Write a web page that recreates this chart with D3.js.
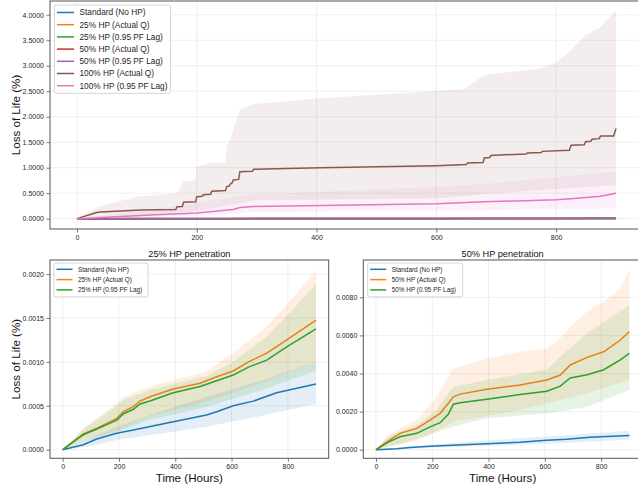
<!DOCTYPE html>
<html>
<head>
<meta charset="utf-8">
<script src="https://cdn.jsdelivr.net/npm/d3@7"></script>
<style>
  body { margin: 0; background: #fff; }
  svg { font-family: 'Liberation Sans', Arial, sans-serif; display: block; }
</style>
</head>
<body>
<div id="chart"></div>
<script>
// series values, [hour, loss of life %]
const standardMean = [[0,0],[73,0.000057],[121,0.000122],[192,0.000187],[251,0.000225],[393,0.000319],[511,0.000395],[547,0.000433],[606,0.0005],[677,0.000553],[760,0.000649],[900,0.000748]];
const standardUpper = [[0,0],[100,0.00013],[192,0.00026],[380,0.00047],[511,0.0006],[700,0.00078],[900,0.001]];
const standardLower = [[0,0],[100,0.00004],[192,0.00011],[380,0.0002],[511,0.00026],[700,0.00038],[900,0.00052]];

const hp25ActualMean = [[0,0],[45,0.00011],[73,0.000179],[121,0.000243],[192,0.000357],[216,0.000433],[251,0.00049],[275,0.000554],[310,0.000603],[393,0.000691],[488,0.000756],[547,0.00083],[606,0.000896],[660,0.001],[725,0.0011],[796,0.00125],[900,0.001476]];
const hp25ActualUpper = [[0,0],[45,0.00015],[73,0.000243],[192,0.000528],[216,0.000603],[310,0.00072],[393,0.000793],[511,0.000888],[606,0.0011],[725,0.0014],[819,0.00174],[900,0.00204]];
const hp25ActualLower = [[0,0],[73,0.0001],[192,0.00022],[310,0.00038],[393,0.00045],[511,0.00055],[606,0.00065],[725,0.00078],[900,0.001]];
const hp25LagMean = [[0,0],[45,0.000105],[73,0.00017],[121,0.000235],[192,0.000336],[216,0.00041],[251,0.00046],[275,0.00052],[310,0.000554],[393,0.000649],[488,0.00072],[606,0.00085],[660,0.00094],[725,0.00102],[796,0.00117],[900,0.001377]];
const hp25LagUpper = [[0,0],[45,0.00014],[73,0.00023],[192,0.0005],[216,0.00057],[310,0.00068],[393,0.00075],[511,0.00084],[606,0.001],[725,0.00129],[819,0.0016],[900,0.00189]];
const hp25LagLower = [[0,0],[73,0.00009],[192,0.0002],[310,0.00034],[393,0.0004],[511,0.00049],[606,0.00058],[725,0.0007],[900,0.0009]];

const hp50ActualMean = [[0,0],[44,0.00046],[85,0.00086],[145,0.00112],[192,0.00156],[228,0.00191],[257,0.00244],[275,0.00278],[299,0.00292],[394,0.00317],[512,0.0034],[607,0.00366],[655,0.00392],[690,0.00445],[750,0.00485],[809,0.00514],[868,0.00576],[900,0.00619]];
const hp50ActualUpper = [[0,0],[44,0.00079],[145,0.00156],[210,0.00265],[275,0.00427],[299,0.00435],[394,0.00479],[512,0.00514],[607,0.00532],[655,0.00585],[702,0.00663],[750,0.00725],[809,0.00777],[868,0.00847],[900,0.00943]];
const hp50ActualLower = [[0,0],[44,0.0002],[145,0.0005],[192,0.0008],[275,0.00147],[512,0.00208],[750,0.00296],[900,0.00366]];
const hp50LagMean = [[0,0],[44,0.0004],[85,0.00068],[145,0.00086],[192,0.0012],[228,0.00142],[257,0.00186],[275,0.00239],[299,0.00247],[394,0.00265],[512,0.0029],[607,0.00307],[655,0.00334],[690,0.00377],[750,0.00394],[809,0.0042],[868,0.00472],[900,0.00506]];
const hp50LagUpper = [[0,0],[44,0.0007],[145,0.0013],[210,0.002],[275,0.00331],[394,0.00366],[607,0.0042],[655,0.0049],[750,0.00611],[900,0.0076]];
const hp50LagLower = [[0,0],[85,0.00027],[275,0.00121],[394,0.00165],[607,0.0019],[750,0.00226],[900,0.00313]];

const hp100ActualMean = [[0,0],[8,0.03],[33,0.12],[40,0.13],[106,0.17],[165,0.18],[167,0.235],[176,0.24],[178,0.32],[198,0.33],[200,0.43],[209,0.44],[211,0.47],[223,0.48],[225,0.54],[248,0.55],[250,0.63],[254,0.64],[256,0.68],[259,0.7],[261,0.76],[270,0.77],[272,0.92],[293,0.93],[295,0.97],[406,1.0],[600,1.04],[650,1.06],[652,1.09],[678,1.1],[680,1.19],[689,1.2],[691,1.24],[750,1.27],[752,1.29],[775,1.3],[777,1.32],[822,1.34],[825,1.44],[847,1.45],[849,1.51],[858,1.52],[860,1.56],[872,1.57],[874,1.62],[896,1.62],[900,1.77]];
const hp100ActualUpper = [[0,0],[8,0.05],[33,0.22],[55,0.29],[100,0.43],[167,0.5],[178,0.73],[198,0.76],[200,1.02],[222,1.09],[248,1.1],[250,1.41],[256,1.55],[261,1.75],[272,2.13],[295,2.25],[406,2.36],[646,2.54],[680,2.82],[775,2.95],[800,3.06],[825,3.31],[849,3.61],[874,3.75],[896,4.03],[900,4.06]];
const hp100ActualLower = [[0,0],[30,0.03],[100,0.06],[200,0.15],[272,0.3],[295,0.36],[406,0.37],[600,0.4],[700,0.5],[825,0.6],[900,0.66]];
const hp100LagMean = [[0,0],[123,0.07],[200,0.11],[261,0.18],[272,0.22],[295,0.24],[406,0.26],[600,0.29],[680,0.33],[800,0.37],[825,0.39],[874,0.44],[900,0.5]];
const hp100LagUpper = [[0,0],[100,0.15],[200,0.3],[272,0.45],[406,0.53],[600,0.62],[700,0.7],[825,0.84],[900,0.92]];
const hp100LagLower = [[0,0],[200,0.06],[300,0.13],[406,0.14],[700,0.17],[900,0.2]];

const xTicks = [0, 200, 400, 600, 800];
const yTicksTop = [0, 0.5, 1, 1.5, 2, 2.5, 3, 3.5, 4];
const yTicks25 = [0, 0.0005, 0.001, 0.0015, 0.002];
const yTicks50 = [0, 0.002, 0.004, 0.006, 0.008];

const series = {
  std: {label: 'Standard (No HP)', color: '#1f77b4', mean: standardMean, lo: standardLower, hi: standardUpper},
  a25: {label: '25% HP (Actual Q)', color: '#ff7f0e', mean: hp25ActualMean, lo: hp25ActualLower, hi: hp25ActualUpper},
  l25: {label: '25% HP (0.95 PF Lag)', color: '#2ca02c', mean: hp25LagMean, lo: hp25LagLower, hi: hp25LagUpper},
  a50: {label: '50% HP (Actual Q)', color: '#d62728', mean: hp50ActualMean, lo: hp50ActualLower, hi: hp50ActualUpper},
  l50: {label: '50% HP (0.95 PF Lag)', color: '#9467bd', mean: hp50LagMean, lo: hp50LagLower, hi: hp50LagUpper},
  a100: {label: '100% HP (Actual Q)', color: '#8c564b', mean: hp100ActualMean, lo: hp100ActualLower, hi: hp100ActualUpper},
  l100: {label: '100% HP (0.95 PF Lag)', color: '#e377c2', mean: hp100LagMean, lo: hp100LagLower, hi: hp100LagUpper}
};

const W = 638, H = 489;
const svg = d3.select('#chart').append('svg').attr('width', W).attr('height', H);

// interpolate a sparse [hour, value] list at hour h
function at(arr, h) {
  for (let i = 1; i < arr.length; i++) {
    if (h <= arr[i][0]) {
      const [x0, y0] = arr[i - 1], [x1, y1] = arr[i];
      return y0 + (y1 - y0) * (h - x0) / (x1 - x0);
    }
  }
  return arr[arr.length - 1][1];
}

let clipId = 0;
function panel(p) {
  const x = d3.scaleLinear().domain([-45, 945]).range([p.left, p.right]);
  const y = d3.scaleLinear().domain(p.ydom).range([p.bottom, p.top]);
  const colorOf = k => (p.colors && p.colors[k]) || series[k].color;
  const g = svg.append('g');
  const id = 'clip' + (clipId++);
  g.append('clipPath').attr('id', id).append('rect')
    .attr('x', p.left).attr('y', p.top)
    .attr('width', p.right - p.left).attr('height', p.bottom - p.top);

  // grid
  const grid = g.append('g').attr('clip-path', `url(#${id})`);
  grid.selectAll('.gx').data(xTicks).join('line')
    .attr('x1', d => x(d)).attr('x2', d => x(d))
    .attr('y1', p.top).attr('y2', p.bottom)
    .style('stroke', '#ebebeb').style('stroke-width', 0.8);
  grid.selectAll('.gy').data(p.yticks).join('line')
    .attr('x1', p.left).attr('x2', p.right)
    .attr('y1', d => y(d)).attr('y2', d => y(d))
    .style('stroke', '#ebebeb').style('stroke-width', 0.8);

  // bands + lines
  const plot = g.append('g').attr('clip-path', `url(#${id})`);
  const line = d3.line().x(d => x(d[0])).y(d => y(d[1]));
  const area = d3.area().x(d => x(d[0])).y0(d => y(d[1])).y1(d => y(d[2]));
  p.keys.forEach(k => {
    const s = series[k];
    const hours = Array.from(new Set(s.lo.map(d => d[0]).concat(s.hi.map(d => d[0])))).sort((a, b) => a - b);
    const band = hours.map(h => [h, at(s.lo, h), at(s.hi, h)]);
    plot.append('path').attr('d', area(band))
      .style('fill', colorOf(k)).style('fill-opacity', p.bandAlpha);
    plot.append('path').attr('d', line(s.mean))
      .style('fill', 'none').style('stroke', colorOf(k)).style('stroke-width', 1.5);
  });

  // axes
  const xa = g.append('g').attr('transform', `translate(0,${p.bottom})`)
    .call(d3.axisBottom(x).tickValues(xTicks).tickSize(3.5).tickPadding(2.5).tickFormat(d3.format('d')));
  const ya = g.append('g').attr('transform', `translate(${p.left},0)`)
    .call(d3.axisLeft(y).tickValues(p.yticks).tickSize(3.5).tickPadding(2.5).tickFormat(d3.format('.4f')));
  [xa, ya].forEach(a => {
    a.select('.domain').remove();
    a.selectAll('line').style('stroke', '#555').style('stroke-width', 0.8);
    a.selectAll('text').style('font-size', '7px').style('fill', '#262626')
      .style('font-family', "'Liberation Sans', Arial, sans-serif");
  });

  // frame
  g.append('rect').attr('x', p.left).attr('y', p.top)
    .attr('width', p.right - p.left).attr('height', p.bottom - p.top)
    .style('fill', 'none').style('stroke', '#555').style('stroke-width', 1);

  if (p.title) {
    g.append('text').attr('x', (p.left + p.right) / 2).attr('y', p.top - 3.5)
      .attr('text-anchor', 'middle').style('font-size', '9.2px').style('fill', '#111')
      .text(p.title);
  }
  if (p.ylabel) {
    g.append('text')
      .attr('transform', `translate(${p.ylabelX},${(p.top + p.bottom) / 2}) rotate(-90)`)
      .attr('text-anchor', 'middle').style('font-size', '11.6px').style('fill', '#111')
      .text(p.ylabel);
  }
  if (p.xlabel) {
    g.append('text').attr('x', (p.left + p.right) / 2).attr('y', p.bottom + 23.5)
      .attr('text-anchor', 'middle').style('font-size', '11.6px').style('fill', '#111')
      .text(p.xlabel);
  }

  // legend
  const L = p.legend;
  const lg = g.append('g').attr('transform', `translate(${L.x},${L.y})`);
  lg.append('rect').attr('width', L.w).attr('height', L.step * p.keys.length + 3)
    .attr('rx', 2).style('fill', '#fff').style('fill-opacity', 0.85)
    .style('stroke', '#ccc').style('stroke-width', 0.8);
  p.keys.forEach((k, i) => {
    const cy = L.first + i * L.step;
    lg.append('line').attr('x1', 2.5).attr('x2', 2.5 + L.len).attr('y1', cy).attr('y2', cy)
      .style('stroke', colorOf(k)).style('stroke-width', 1.5);
    lg.append('text').attr('x', L.len + 8).attr('y', cy).attr('dy', '0.35em')
      .style('font-size', L.font + 'px').style('fill', '#262626').text(series[k].label);
  });
}

panel({
  left: 50, right: 643, top: 1, bottom: 229,
  ydom: [-0.203, 4.27], yticks: yTicksTop, bandAlpha: 0.1,
  keys: ['std', 'a25', 'l25', 'a50', 'l50', 'a100', 'l100'],
  ylabel: 'Loss of Life (%)', ylabelX: 19.5,
  legend: {x: 54.5, y: 5, w: 116, first: 7.5, step: 12.2, len: 17, font: 8.3}
});

panel({
  left: 50, right: 328.7, top: 260, bottom: 458.3,
  ydom: [-0.0000979, 0.00216], yticks: yTicks25, bandAlpha: 0.12,
  keys: ['std', 'a25', 'l25'],
  title: '25% HP penetration', ylabel: 'Loss of Life (%)', ylabelX: 19.5, xlabel: 'Time (Hours)',
  legend: {x: 54, y: 263, w: 94, first: 6.3, step: 10.3, len: 16, font: 6.4}
});

// the 50% panel draws its two HP series in the tab10 orange / green
panel({
  left: 363.3, right: 642, top: 260, bottom: 458.3,
  ydom: [-0.00045, 0.00996], yticks: yTicks50, bandAlpha: 0.12,
  keys: ['std', 'a50', 'l50'],
  colors: {a50: '#ff7f0e', l50: '#2ca02c'},
  title: '50% HP penetration', xlabel: 'Time (Hours)',
  legend: {x: 367.7, y: 263, w: 95, first: 6.3, step: 10.3, len: 16, font: 6.4}
});
</script>
</body>
</html>
